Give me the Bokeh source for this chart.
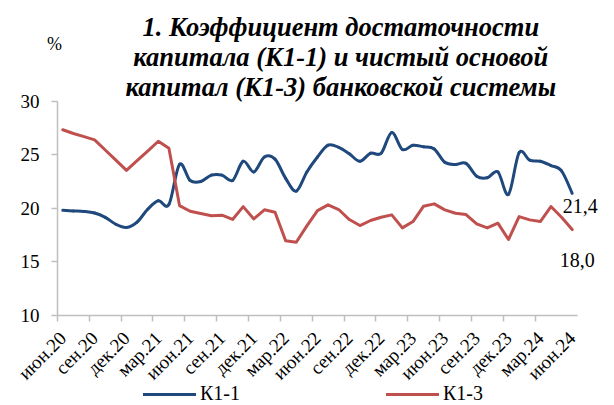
import numpy as np
from bokeh.plotting import figure
from bokeh.models import (Range1d, FixedTicker, Legend, LegendItem, ColumnDataSource)
from bokeh.core.properties import value
from bokeh.embed import file_html
from bokeh.resources import INLINE

# ---------------- data ----------------
title_lines = ["1. Коэффициент достаточности",
               "капитала (К1-1) и чистый основой",
               "капитал (К1-3) банковской системы"]
unit_label = "%"
tick_labels = ["июн.20", "сен.20", "дек.20", "мар.21", "июн.21", "сен.21", "дек.21",
               "мар.22", "июн.22", "сен.22", "дек.22", "мар.23", "июн.23", "сен.23",
               "дек.23", "мар.24", "июн.24"]
series_names = ["К1-1", "К1-3"]
# monthly values, июн.20 ... июн.24 (49 months)
k1_1 = [19.8, 19.75, 19.7, 19.55, 19.15, 18.5, 18.2, 18.7, 19.9, 20.7,
        20.35, 24.1, 22.6, 22.5, 23.1, 23.1, 22.6, 24.4, 23.4, 24.8,
        24.6, 22.8, 21.6, 23.4, 24.8, 25.9, 25.7, 25.1, 24.4, 25.15,
        25.15, 27.1, 25.5, 25.9, 25.75, 25.55, 24.3, 24.1, 24.2, 23.0,
        22.85, 23.4, 21.3, 25.2, 24.5, 24.4, 24.0, 23.5, 21.4]
k1_3 = [27.35, 27.0, 26.7, 26.4, 25.45, 24.5, 23.55, 24.45, 25.35, 26.27,
        25.62, 20.25, 19.72, 19.5, 19.3, 19.35, 18.95, 20.15, 19.0, 19.85,
        19.63, 16.95, 16.82, 18.35, 19.78, 20.32, 19.88, 18.94, 18.38, 18.85,
        19.16, 19.38, 18.16, 18.75, 20.19, 20.41, 19.85, 19.53, 19.41, 18.54,
        18.16, 18.6, 17.07, 19.22, 18.91, 18.75, 20.16, 19.16, 18.0]
y_ticks = [10, 15, 20, 25, 30]

BLUE = "#1F497D"
RED = "#C0504D"
AXIS = "#BFBFBF"
SERIF = "'Liberation Serif', serif"

n = len(k1_1)
x = np.arange(n)

# the frame covers the whole canvas; axes are pinned at the chart edges (fixed_location)
p = figure(width=614, height=405, output_backend="svg", toolbar_location=None,
           x_range=Range1d(-5.87, 51.99), y_range=Range1d(1.53, 39.45),
           min_border_left=0, min_border_right=0, min_border_top=0,
           min_border_bottom=0)
p.outline_line_color = None
p.xgrid.visible = False
p.ygrid.visible = False
p.background_fill_color = "white"
p.border_fill_color = "white"

# smoothed K1-1 (bezier segments, Catmull-Rom control points)
y1 = np.array(k1_1, dtype=float)
xp = np.concatenate([[x[0]], x, [x[-1]]]).astype(float)
yp = np.concatenate([[y1[0]], y1, [y1[-1]]])
x0 = x[:-1].astype(float); x1 = x[1:].astype(float)
y0 = y1[:-1]; yy1 = y1[1:]
cx0 = x0 + (xp[2:n + 1] - xp[0:n - 1]) / 6.0
cy0 = y0 + (yp[2:n + 1] - yp[0:n - 1]) / 6.0
cx1 = x1 - (xp[3:n + 2] - xp[1:n]) / 6.0
cy1 = yy1 - (yp[3:n + 2] - yp[1:n]) / 6.0
bsrc = ColumnDataSource(dict(x0=x0, y0=y0, x1=x1, y1=yy1, cx0=cx0, cy0=cy0, cx1=cx1, cy1=cy1))
r1 = p.bezier(x0="x0", y0="y0", x1="x1", y1="y1", cx0="cx0", cy0="cy0", cx1="cx1", cy1="cy1",
              source=bsrc, line_color=BLUE, line_width=3, line_cap="round")
r3 = p.line(x, k1_3, line_color=RED, line_width=3, line_join="round", line_cap="round")

# end-value labels
def fmt(v):
    return f"{v:.1f}".replace(".", ",")

p.text(x=[x[-1]], y=[k1_1[-1]], text=[fmt(k1_1[-1])], text_font=value(SERIF),
       text_font_size="20px", text_color="black", text_align="center",
       text_baseline="middle", x_offset=8, y_offset=13)
p.text(x=[x[-1]], y=[k1_3[-1]], text=[fmt(k1_3[-1])], text_font=value(SERIF),
       text_font_size="20px", text_color="black", text_align="center",
       text_baseline="middle", x_offset=5, y_offset=30)

# title (centred) and unit label, drawn above the value axis
title_x = 26.2
p.text(x=[title_x] * 3, y=[37.0, 34.19, 31.38], text=title_lines,
       text_font=value(SERIF), text_font_size="26.5px", text_font_style="bold italic",
       text_align="center", text_baseline="alphabetic", text_color="black")
p.text(x=[-0.78], y=[35.37], text=[unit_label], text_font=value(SERIF),
       text_font_size="18px", text_align="center", text_baseline="alphabetic",
       text_color="black")

# axes
label_ticks = list(range(0, n, 3))
xa = p.xaxis[0]
xa.fixed_location = y_ticks[0]
xa.ticker = FixedTicker(ticks=label_ticks, minor_ticks=[t - 0.5 for t in label_ticks[:-1]])
xa.major_label_overrides = {t: lab for t, lab in zip(label_ticks, tick_labels)}
xa.major_label_orientation = np.pi / 4
xa.bounds = (-0.5, n - 0.5)
xa.major_tick_out = 0
xa.major_tick_in = 0
xa.minor_tick_out = 6
xa.minor_tick_in = 0
xa.minor_tick_line_color = AXIS
xa.minor_tick_line_width = 1.5
xa.axis_line_color = AXIS
xa.axis_line_width = 1.5
xa.major_label_text_font = SERIF
xa.major_label_text_font_size = "19px"
xa.major_label_text_color = "black"
xa.major_label_standoff = 14

ya = p.yaxis[0]
ya.fixed_location = -0.5
ya.ticker = FixedTicker(ticks=y_ticks)
ya.bounds = (y_ticks[0], y_ticks[-1])
ya.major_tick_out = 6
ya.major_tick_in = 0
ya.major_tick_line_color = AXIS
ya.major_tick_line_width = 1.5
ya.minor_tick_line_color = None
ya.axis_line_color = AXIS
ya.axis_line_width = 1.5
ya.major_label_text_font = SERIF
ya.major_label_text_font_size = "19px"
ya.major_label_text_color = "black"
ya.major_label_standoff = 12

legend = Legend(items=[LegendItem(label=series_names[0], renderers=[r1]),
                       LegendItem(label=series_names[1], renderers=[r3])],
                orientation="horizontal", location=(143, 0),
                glyph_width=53, glyph_height=16, label_height=16,
                label_standoff=4, spacing=146, padding=0, margin=0,
                border_line_color=None, background_fill_alpha=0,
                label_text_font=SERIF, label_text_font_size="20px",
                label_text_color="black")
p.add_layout(legend, "center")

open("out.html", "w").write(file_html(p, INLINE))
